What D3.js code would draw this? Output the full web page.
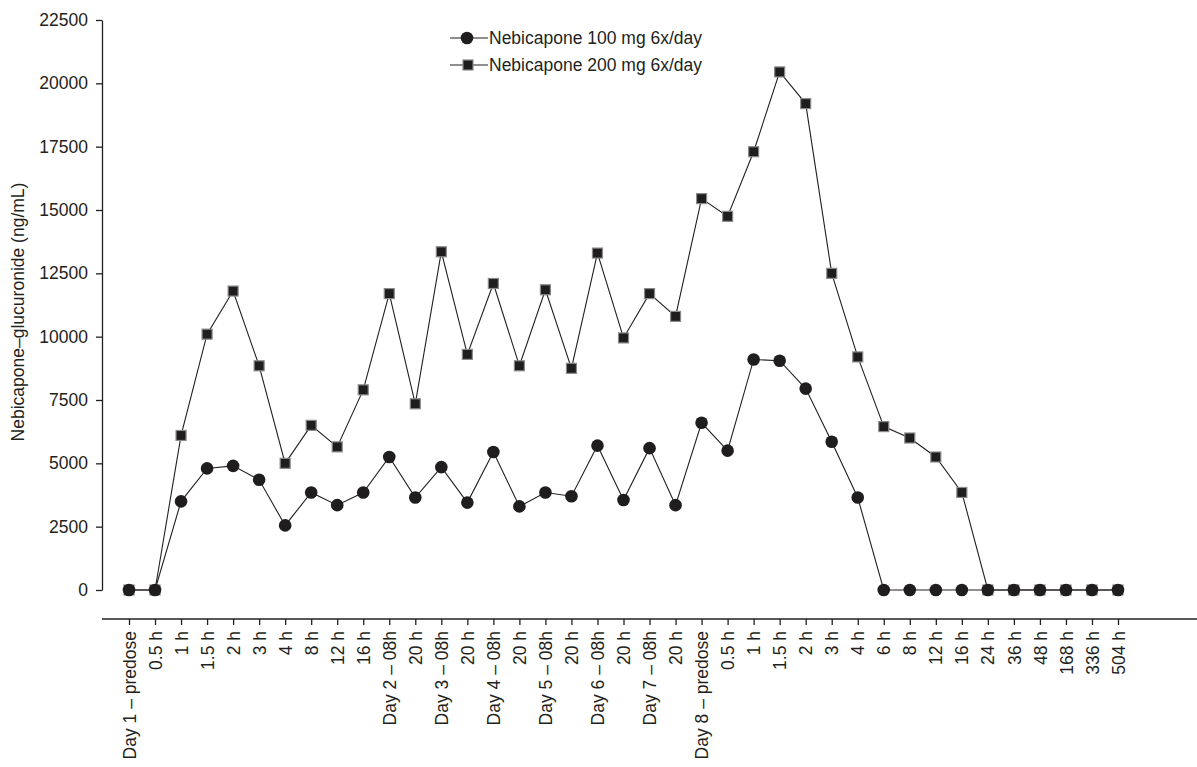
<!DOCTYPE html>
<html>
<head>
<meta charset="utf-8">
<script src="https://cdn.jsdelivr.net/npm/d3@7"></script>
<style>
  body { margin: 0; background: #fff; }
  svg text { font-family: "Liberation Sans", Arial, sans-serif; fill: #231f20; }
</style>
</head>
<body>
<div id="chart"></div>
<script>
const categories = [
  'Day 1 \u2013 predose', '0.5 h', '1 h', '1.5 h', '2 h', '3 h', '4 h', '8 h', '12 h', '16 h',
  'Day 2 \u2013 08h', '20 h', 'Day 3 \u2013 08h', '20 h', 'Day 4 \u2013 08h', '20 h',
  'Day 5 \u2013 08h', '20 h', 'Day 6 \u2013 08h', '20 h', 'Day 7 \u2013 08h', '20 h',
  'Day 8 \u2013 predose', '0.5 h', '1 h', '1.5 h', '2 h', '3 h', '4 h', '6 h', '8 h', '12 h', '16 h',
  '24 h', '36 h', '48 h', '168 h', '336 h', '504 h'
]
const dose100 = [0, 0, 3500, 4800, 4900, 4350, 2550, 3850, 3350, 3850, 5250, 3650, 4850, 3450,
  5450, 3300, 3850, 3700, 5700, 3550, 5600, 3350, 6600, 5500, 9100, 9050, 7950, 5850, 3650,
  0, 0, 0, 0, 0, 0, 0, 0, 0, 0]
const dose200 = [0, 0, 6100, 10100, 11800, 8850, 5000, 6500, 5650, 7900, 11700, 7350, 13350, 9300,
  12100, 8850, 11850, 8750, 13300, 9950, 11700, 10800, 15450, 14750, 17300, 20450, 19200, 12500, 9200,
  6450, 6000, 5250, 3850, 0, 0, 0, 0, 0, 0]
const yTicks = [0, 2500, 5000, 7500, 10000, 12500, 15000, 17500, 20000, 22500]
const seriesNames = ['Nebicapone 100 mg 6x/day', 'Nebicapone 200 mg 6x/day']

const W = 1197, H = 767
const ink = '#231f20'
const fs = '17.5px'
const svg = d3.select('#chart').append('svg').attr('width', W).attr('height', H)

const idx = categories.map((d, i) => i)
const x = d3.scalePoint().domain(idx).range([129, 1118])
const y = d3.scaleLinear().domain([0, 22500]).range([590, 20])

// y axis
const yAxis = svg.append('g').attr('transform', 'translate(102,0)')
  .call(d3.axisLeft(y).tickValues(yTicks).tickSize(6).tickPadding(8).tickSizeOuter(0)
    .tickFormat(d3.format('d')))
yAxis.select('.domain').attr('stroke', ink).attr('stroke-width', 1.3)
yAxis.selectAll('.tick line').attr('stroke', ink).attr('stroke-width', 1.3)
yAxis.selectAll('.tick text').style('font-size', fs).attr('fill', ink)

// x axis sits below the zero line
const xAxis = svg.append('g').attr('transform', 'translate(0,619)')
  .call(d3.axisBottom(x).tickSize(6).tickSizeOuter(0).tickFormat(i => categories[i]))
xAxis.select('.domain').attr('d', 'M102,0H1197').attr('stroke', ink).attr('stroke-width', 1.3)
xAxis.selectAll('.tick line').attr('stroke', ink).attr('stroke-width', 1.3)
xAxis.selectAll('.tick text')
  .style('font-size', fs).attr('fill', ink)
  .attr('text-anchor', 'end')
  .attr('transform', 'rotate(-90)')
  .attr('x', -12).attr('y', 0).attr('dy', '0.35em')

// y label
svg.append('text')
  .attr('transform', 'translate(24,312) rotate(-90)')
  .attr('text-anchor', 'middle')
  .style('font-size', fs)
  .text('Nebicapone\u2013glucuronide (ng/mL)')

const line = d3.line().x((d, i) => x(i)).y(d => y(d))

// 200 mg series (squares)
svg.append('path').datum(dose200).attr('d', line)
  .attr('fill', 'none').attr('stroke', ink).attr('stroke-width', 1.1)
svg.append('g').selectAll('rect').data(dose200).join('rect')
  .attr('x', (d, i) => x(i) - 5).attr('y', d => y(d) - 5)
  .attr('width', 10).attr('height', 10)
  .attr('fill', '#1f1d1e').attr('stroke', '#8a8a8a').attr('stroke-width', 1.2)

// 100 mg series (circles)
svg.append('path').datum(dose100).attr('d', line)
  .attr('fill', 'none').attr('stroke', ink).attr('stroke-width', 1.1)
svg.append('g').selectAll('circle').data(dose100).join('circle')
  .attr('cx', (d, i) => x(i)).attr('cy', d => y(d)).attr('r', 6.3)
  .attr('fill', '#1f1d1e')

// legend
const legend = svg.append('g')
seriesNames.forEach((name, k) => {
  const ly = 38 + k * 27
  legend.append('line').attr('x1', 450).attr('x2', 488).attr('y1', ly).attr('y2', ly)
    .attr('stroke', ink).attr('stroke-width', 1.1)
  if (k === 0) {
    legend.append('circle').attr('cx', 467).attr('cy', ly).attr('r', 6.3).attr('fill', '#1f1d1e')
  } else {
    legend.append('rect').attr('x', 463).attr('y', ly - 5).attr('width', 10).attr('height', 10)
      .attr('fill', '#1f1d1e').attr('stroke', '#8a8a8a').attr('stroke-width', 1.2)
  }
  legend.append('text').attr('x', 489).attr('y', ly).attr('dy', '0.35em')
    .style('font-size', fs).text(name)
})
</script>
</body>
</html>
